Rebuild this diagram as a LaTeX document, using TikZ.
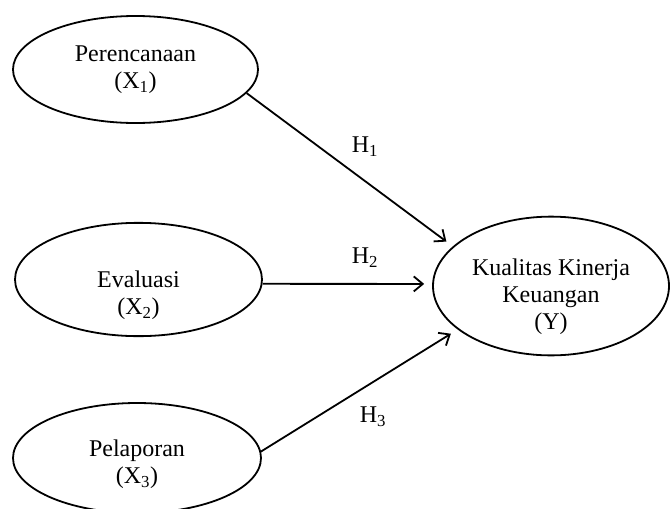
\documentclass[tikz,border=0pt]{standalone}
\usepackage{fontspec}
\setmainfont{Liberation Serif}
\usetikzlibrary{shapes.geometric, arrows.meta}

\begin{document}
\begin{tikzpicture}[
		x=1pt, y=-1pt,
		every node/.style={font=\fontsize{24}{27}\selectfont},
		var/.style={ellipse, draw, line width=1.8pt, inner sep=0pt, align=center,
			minimum width=245pt, minimum height=107pt},
		hyp/.style={line width=1.8pt, -{Straight Barb[length=9pt, width=15pt]}, shorten >=8pt}
	]
  \useasboundingbox (0,0) rectangle (670,509);
  \node (x1) [var] at (135.5, 69.5) {Perencanaan\\(X\textsubscript{1})};
  \node (x2) [var, text height=75pt, minimum width=247pt, minimum height=109pt] at (138.5, 279.5) {Evaluasi\\(X\textsubscript{2})};
  \node (x3) [var, text height=57pt, minimum width=248pt, minimum height=110pt] at (137, 458) {Pelaporan\\(X\textsubscript{3})};
  \node (y) [var, text height=93pt, minimum width=236pt, minimum height=108pt] at (551, 286) {Kualitas Kinerja\\Keuangan\\(Y)};
  \node (h1) at (365, 147) {H\textsubscript{1}};
  \node (h2) at (365, 258) {H\textsubscript{2}};
  \node (h3) at (373, 417) {H\textsubscript{3}};

  \draw [hyp] (x1.-12) -- (y.158);
  \draw [hyp] (x2.-2) -- (y.179);
  \draw [hyp] (x3.3) -- (y.205);
\end{tikzpicture}
\end{document}
